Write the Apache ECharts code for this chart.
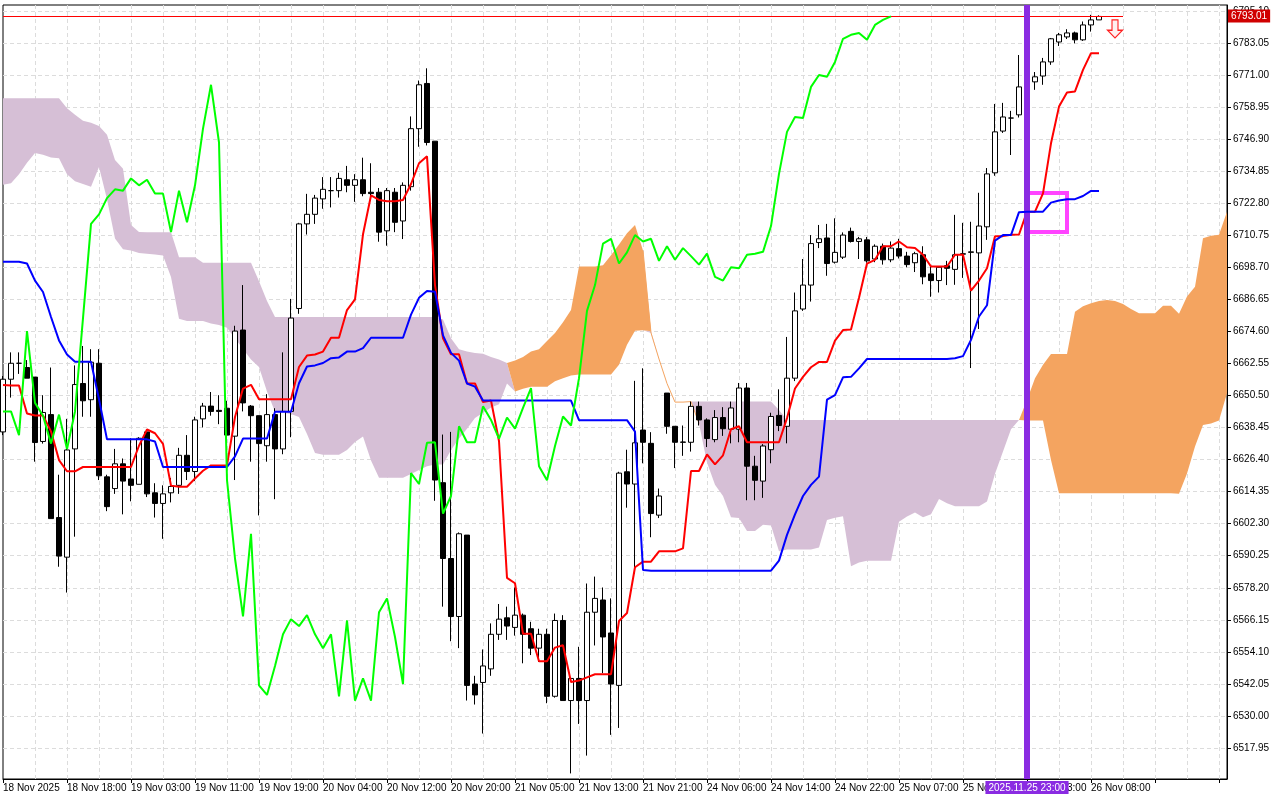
<!DOCTYPE html>
<html><head><meta charset="utf-8">
<script src="https://cdn.jsdelivr.net/npm/echarts@6/dist/echarts.min.js"></script>
<style>html,body{margin:0;padding:0;background:#fff}#c{width:1280px;height:800px}</style>
</head><body><div id="c"></div>
<script>
const xTickLabels = ["18 Nov 2025","18 Nov 18:00","19 Nov 03:00","19 Nov 11:00","19 Nov 19:00","20 Nov 04:00","20 Nov 12:00","20 Nov 20:00","21 Nov 05:00","21 Nov 13:00","21 Nov 21:00","24 Nov 06:00","24 Nov 14:00","24 Nov 22:00","25 Nov 07:00","25 Nov 15:00","25 Nov 23:00","26 Nov 08:00"];
const yTickLabels = ["6517.95","6530.00","6542.05","6554.10","6566.15","6578.20","6590.25","6602.30","6614.35","6626.40","6638.45","6650.50","6662.55","6674.60","6686.65","6698.70","6710.75","6722.80","6734.85","6746.90","6758.95","6771.00","6783.05","6795.10"];
const openV = [6636.8,6656.6,6662.6,6661.0,6657.4,6633.2,6643.3,6604.6,6589.7,6630.4,
6655.0,6648.9,6662.6,6619.9,6615.5,6624.8,6619.1,6617.1,6636.8,6613.9,
6609.9,6613.9,6616.7,6628.0,6621.9,6641.7,6646.5,6644.9,6645.7,6635.2,
6675.1,6646.5,6642.9,6631.6,6643.3,6630.4,6644.5,6683.2,6715.0,6718.6,
6724.4,6727.5,6727.5,6731.6,6729.5,6731.6,6726.9,6726.9,6712.4,6726.9,
6716.1,6729.0,6750.8,6767.8,6746.1,6617.7,6589.2,6567.4,6598.0,6542.0,
6542.6,6547.7,6560.7,6566.9,6563.3,6567.9,6562.8,6555.5,6560.7,6537.4,
6565.9,6535.8,6544.1,6535.8,6569.0,6573.6,6561.2,6541.5,6621.8,6617.2,
6637.5,6632.5,6605.5,6651.4,6638.9,6633.0,6632.9,6646.4,6641.3,6633.9,
6642.2,6637.8,6637.8,6653.3,6623.9,6618.3,6630.1,6643.0,6638.9,6657.0,
6683.0,6692.0,6708.0,6709.7,6700.6,6702.5,6712.2,6708.4,6709.0,6701.8,
6706.6,6701.5,6705.7,6702.9,6700.4,6703.4,6696.2,6693.7,6699.3,6697.9,
6703.6,6704.3,6704.1,6713.9,6734.2,6749.9,6754.8,6756.0,6766.5,6768.4,
6770.6,6775.9,6783.4,6785.3,6786.8,6784.2,6789.8,6791.7];
const closeV = [6656.6,6662.6,6662.6,6657.0,6632.8,6644.1,6604.2,6590.1,6630.0,6654.6,
6648.5,6663.0,6620.3,6608.7,6624.8,6618.3,6616.7,6634.4,6613.5,6609.9,
6613.5,6616.3,6628.0,6621.9,6641.3,6646.5,6644.5,6644.5,6635.6,6674.7,
6647.7,6642.9,6632.4,6643.3,6630.4,6644.5,6679.6,6715.0,6718.6,6724.7,
6728.0,6727.5,6732.1,6729.5,6731.6,6726.4,6726.4,6711.9,6727.5,6715.6,
6729.5,6750.8,6767.3,6745.6,6618.7,6589.2,6567.4,6598.5,6541.5,6537.9,
6548.8,6560.7,6566.4,6563.8,6567.9,6560.7,6555.5,6560.7,6537.4,6565.9,
6535.8,6544.1,6535.8,6569.0,6574.2,6559.7,6542.0,6621.3,6617.2,6632.7,
6632.9,6606.1,6612.7,6638.9,6632.9,6632.9,6646.4,6641.3,6634.3,6642.2,
6638.0,6645.8,6653.3,6623.9,6618.6,6631.5,6642.6,6639.2,6657.0,6682.3,
6692.0,6707.6,6709.4,6700.1,6704.3,6710.8,6708.4,6709.4,6701.1,6706.6,
6701.5,6705.9,6702.9,6699.7,6703.8,6695.1,6693.7,6698.7,6698.3,6703.4,
6703.8,6704.5,6714.2,6733.8,6749.6,6755.2,6754.8,6766.5,6771.0,6770.3,
6775.9,6784.6,6786.1,6786.8,6784.2,6789.8,6791.7,6793.0];
const lowV = [6635.6,6649.7,6658.6,6657.0,6625.6,6632.4,6604.2,6586.1,6576.4,6597.4,
6642.5,6642.5,6618.7,6607.0,6613.5,6605.8,6610.7,6617.1,6612.3,6604.6,
6596.6,6610.3,6613.5,6618.7,6618.3,6638.5,6642.9,6639.7,6634.4,6618.7,
6644.5,6625.6,6605.4,6625.6,6611.5,6628.4,6634.8,6681.2,6711.0,6715.0,
6720.7,6721.2,6724.9,6726.9,6723.3,6725.4,6724.9,6708.3,6706.8,6711.9,
6709.3,6727.5,6744.0,6744.5,6610.9,6571.1,6558.1,6555.5,6535.8,6534.3,
6523.4,6545.1,6558.6,6558.6,6560.2,6549.8,6552.9,6550.3,6534.8,6536.9,
6535.8,6508.4,6527.0,6515.1,6556.5,6546.1,6522.9,6525.5,6608.3,6583.5,
6625.0,6597.2,6604.4,6636.1,6623.2,6627.8,6629.4,6639.2,6631.1,6632.9,
6635.3,6632.5,6632.9,6611.1,6611.1,6612.0,6625.0,6637.1,6632.5,6655.9,
6682.3,6685.8,6705.9,6695.5,6700.1,6701.8,6708.0,6701.8,6700.4,6700.6,
6699.7,6700.6,6702.0,6698.7,6696.9,6692.3,6687.6,6689.2,6692.0,6692.1,
6694.7,6660.8,6675.5,6709.0,6733.1,6749.2,6740.9,6755.0,6764.0,6765.4,
6767.3,6774.8,6781.9,6784.5,6782.9,6783.8,6787.3,6791.7];
const highV = [6657.8,6666.7,6666.7,6663.8,6657.4,6650.6,6661.0,6620.7,6641.7,6661.8,
6669.1,6667.9,6667.9,6620.7,6630.4,6626.8,6634.4,6634.8,6637.7,6617.5,
6616.7,6619.5,6630.8,6635.6,6642.5,6647.7,6651.8,6650.6,6648.5,6676.7,
6692.0,6646.9,6642.9,6651.0,6645.7,6666.7,6686.8,6715.4,6726.3,6725.9,
6732.6,6732.6,6734.2,6736.8,6733.7,6739.9,6737.8,6728.5,6728.5,6728.5,
6730.6,6755.4,6768.9,6773.5,6746.1,6635.8,6636.8,6599.0,6598.0,6545.1,
6555.0,6564.8,6572.1,6571.1,6578.3,6568.5,6565.4,6562.8,6562.8,6568.5,
6567.9,6544.6,6556.0,6579.8,6582.4,6578.3,6574.2,6621.8,6630.1,6656.0,
6660.7,6636.7,6615.5,6651.4,6638.9,6639.2,6648.2,6648.2,6641.9,6645.0,
6646.1,6648.2,6655.2,6655.2,6627.8,6632.2,6644.0,6652.8,6672.5,6689.2,
6701.8,6710.8,6714.6,6715.0,6717.1,6711.8,6713.6,6710.1,6710.1,6707.3,
6707.6,6708.4,6709.4,6704.5,6704.5,6706.6,6699.0,6699.0,6701.1,6718.4,
6715.4,6715.8,6726.7,6736.0,6760.1,6760.5,6757.5,6778.5,6772.0,6772.1,
6777.4,6784.9,6786.8,6788.2,6787.3,6791.1,6793.6,6793.4];
const tenkan = [6654.4,6654.2,6654.2,6643.7,6643.0,6643.0,6637.0,6626.2,6622.0,6622.0,
6623.6,6623.6,6623.6,6623.6,6623.6,6623.6,6623.6,6631.6,6637.7,6636.3,
6632.3,6616.6,6616.2,6616.2,6619.3,6622.2,6624.2,6624.2,6624.2,6642.4,
6653.1,6654.5,6649.1,6649.1,6649.1,6649.1,6649.1,6661.2,6665.5,6665.9,
6667.0,6672.2,6672.2,6682.6,6686.6,6711.1,6725.7,6724.0,6723.5,6723.5,
6724.0,6730.0,6737.8,6740.4,6692.0,6672.0,6666.0,6666.0,6655.0,6655.0,
6648.0,6648.6,6633.4,6581.9,6579.9,6560.9,6560.9,6550.6,6550.6,6555.7,
6556.6,6542.8,6543.3,6544.5,6545.7,6545.7,6545.7,6565.7,6568.7,6585.9,
6588.0,6588.0,6591.9,6591.9,6591.9,6593.0,6622.1,6622.1,6628.3,6624.6,
6628.0,6637.8,6638.9,6632.9,6632.9,6632.9,6632.9,6632.9,6642.0,6653.1,
6657.5,6661.1,6663.1,6663.1,6671.1,6675.1,6675.3,6687.2,6700.1,6701.5,
6706.6,6706.6,6708.4,6706.2,6705.9,6703.4,6699.0,6699.0,6699.0,6703.4,
6703.4,6689.9,6693.7,6698.3,6710.4,6710.4,6710.9,6711.0,6719.6,6719.6,
6726.5,6745.3,6759.1,6764.4,6764.8,6772.9,6779.2,6779.2];
const kijun = [6700.8,6700.8,6700.8,6700.1,6693.7,6689.4,6680.0,6671.2,6665.9,6663.2,
6663.2,6663.2,6649.1,6634.0,6634.0,6634.0,6634.0,6634.0,6634.0,6633.2,
6623.6,6623.6,6623.6,6623.6,6623.6,6623.6,6623.6,6623.6,6623.6,6627.6,
6634.3,6634.3,6634.3,6634.3,6644.4,6644.4,6644.4,6655.1,6661.4,6661.8,
6662.7,6664.5,6664.8,6667.0,6667.0,6668.3,6672.2,6672.2,6672.2,6672.2,
6672.2,6680.9,6687.2,6689.8,6689.5,6673.1,6666.5,6663.6,6655.0,6653.8,
6648.6,6648.6,6648.6,6648.6,6648.6,6648.6,6648.6,6648.6,6648.6,6648.6,
6648.6,6648.6,6641.2,6641.2,6641.2,6641.2,6641.2,6641.2,6641.2,6636.9,
6584.9,6584.6,6584.6,6584.6,6584.6,6584.6,6584.6,6584.6,6584.6,6584.6,
6584.6,6584.6,6584.6,6584.6,6584.6,6584.6,6584.6,6588.4,6598.1,6605.8,
6612.7,6616.9,6620.0,6648.9,6650.6,6657.3,6657.5,6660.7,6664.2,6664.2,
6664.2,6664.2,6664.2,6664.2,6664.2,6664.2,6664.2,6664.2,6664.2,6664.5,
6665.3,6671.4,6680.2,6684.4,6708.7,6710.8,6710.8,6719.4,6719.6,6719.6,
6719.6,6723.0,6723.8,6724.3,6724.3,6725.5,6727.4,6727.4];
const chikou = [6644.5,6644.5,6635.6,6674.7,6647.7,6642.9,6632.4,6643.3,6630.4,6644.5,
6679.6,6715.0,6718.6,6724.7,6728.0,6727.5,6732.1,6729.5,6731.6,6726.4,
6726.4,6711.9,6727.5,6715.6,6729.5,6750.8,6767.3,6745.6,6618.7,6589.2,
6567.4,6598.5,6541.5,6537.9,6548.8,6560.7,6566.4,6563.8,6567.9,6560.7,
6555.5,6560.7,6537.4,6565.9,6535.8,6544.1,6535.8,6569.0,6574.2,6559.7,
6542.0,6621.3,6617.2,6632.7,6632.9,6606.1,6612.7,6638.9,6632.9,6632.9,
6646.4,6641.3,6634.3,6642.2,6638.0,6645.8,6653.3,6623.9,6618.6,6631.5,
6642.6,6639.2,6657.0,6682.3,6692.0,6707.6,6709.4,6700.1,6704.3,6710.8,
6708.4,6709.4,6701.1,6706.6,6701.5,6705.9,6702.9,6699.7,6703.8,6695.1,
6693.7,6698.7,6698.3,6703.4,6703.8,6704.5,6714.2,6733.8,6749.6,6755.2,
6754.8,6766.5,6771.0,6770.3,6775.9,6784.6,6786.1,6786.8,6784.2,6789.8,
6791.7,6793.0];
const spanA = [6729.7,6730.3,6733.7,6738,6741.7,6741,6740,6739.7,6733.7,6731,
6730,6729,6736.4,6724.3,6709.5,6705.5,6705,6704.1,6703.8,6703.5,
6703.1,6695,6679.3,6678.5,6678.5,6678.5,6677.6,6677,6676,6672,
6668,6664,6661.2,6652,6644.4,6644,6643.5,6642.4,6636,6628.9,
6628.2,6628.2,6628.2,6630,6633,6635.1,6626,6619.6,6619.6,6619.6,
6619.6,6621,6622.5,6623.9,6624.5,6624.5,6630,6634.3,6638,6642,
6644,6646,6647.2,6655,6663.6,6665,6667,6667.9,6671,6674,
6678,6682.6,6699,6699,6699,6699.5,6703.2,6707.3,6711.5,6714.6,
6705,6674,6664.2,6655,6648,6648,6648.2,6640,6625.3,6616.9,
6612.7,6604.7,6604.4,6599.5,6599.5,6601.9,6601.6,6591.9,6592.6,6592.6,
6592.6,6592.6,6593.3,6603.7,6604.5,6605.1,6586.3,6587.7,6588.4,6588.4,
6588.4,6588.4,6603,6605,6606.5,6604.7,6605.8,6611.6,6610,6608.8,
6608.8,6608.8,6608.8,6610.6,6621.1,6629.4,6637.8,6641.3,6648.8,6657,
6662,6666.1,6666.1,6666.1,6682,6684,6685.2,6686,6686.4,6686,
6684.9,6683,6681.4,6681.4,6681.4,6684.2,6684.2,6681.2,6687.7,6691.4,
6709.6,6710.5,6710.9,6719.6];
const spanB = [6762.2,6762.2,6762.2,6762.2,6762.2,6762.2,6762.2,6762.2,6758.5,6756,
6753.8,6753,6751.8,6748.5,6739,6735.7,6714.6,6712,6711.9,6711.9,
6711.9,6711.9,6702.5,6702.5,6702.5,6700.4,6700.4,6700.4,6700.4,6700.4,
6700.4,6700.4,6693.4,6686,6680,6680,6680,6680,6680,6680,
6680,6680,6680,6680,6680,6680,6680,6680,6680,6680,
6680,6680,6680,6680,6680,6679.1,6672,6667.9,6667,6666.5,
6666.2,6665,6664,6662.7,6652,6653,6653.8,6653.8,6653.8,6655.8,
6657,6658,6658.4,6658.4,6658.4,6658.4,6658.4,6662,6669.6,6674.8,
6675,6674.6,6664.2,6655,6648,6648,6648.2,6648.2,6648.2,6648.2,
6648.2,6648.2,6648.2,6648.2,6648.2,6648.2,6648.2,6645,6641.3,6641.3,
6641.3,6641.3,6641.3,6641.3,6641.3,6641.3,6641.3,6641.3,6641.3,6641.3,
6641.3,6641.3,6641.3,6641.3,6641.3,6641.3,6641.3,6641.3,6641.3,6641.3,
6641.3,6641.3,6641.3,6641.3,6641.3,6641.3,6641.3,6641.3,6641.1,6641.1,
6641.1,6626.2,6613.7,6613.7,6613.7,6613.7,6613.7,6613.7,6613.7,6613.7,
6613.7,6613.7,6613.7,6613.7,6613.7,6613.7,6613.7,6613.5,6621.2,6631.3,
6639.4,6640,6641.1,6651.3];
const lastPrice = 6793.01;
const nowIndex = 128;
const nowLabel = "2025.11.25 23:00";

const N = spanA.length;
const cats = Array.from({length: N}, (_, i) => String(i));
const candles = openV.map((o, i) => [o, closeV[i], lowV[i], highV[i]]);
const cloudBase = spanA.map((a, i) => Math.min(a, spanB[i]));
const cloudPurple = spanA.map((a, i) => spanB[i] > a ? spanB[i] - a : 0);
const cloudOrange = spanA.map((a, i) => a >= spanB[i] ? a - spanB[i] : 0);
const thinA = spanA.map((a, i) => (i >= 80 && i <= 87) ? a : null);
const yTicks = yTickLabels.map(Number);

const chart = echarts.init(document.getElementById('c'), null, {renderer: 'canvas'});
const FONT = 'Liberation Sans';
chart.setOption({
  animation: false,
  backgroundColor: '#ffffff',
  grid: {left: 2, right: 53, top: 5, bottom: 21, show: true, borderColor: '#000', borderWidth: 1, backgroundColor: 'transparent'},
  xAxis: {
    type: 'category', data: cats, boundaryGap: false,
    axisLine: {lineStyle: {color: '#000'}},
    axisTick: {interval: (i) => i % 8 === 0, length: 4, lineStyle: {color: '#000'}},
    axisLabel: {
      interval: (i) => i % 8 === 0 && xTickLabels[i / 8] !== undefined,
      formatter: (v, i) => xTickLabels[i / 8] || '',
      align: 'left', margin: 4, color: '#000', fontFamily: FONT, fontSize: 10
    },
    splitLine: {show: true, interval: (i) => i % 4 === 0 && i > 0, lineStyle: {color: '#dcdcdc', type: [4, 3]}}
  },
  yAxis: {
    type: 'value', position: 'right', min: 6506.3, max: 6797.3, scale: true,
    axisLine: {show: true, lineStyle: {color: '#000'}},
    axisTick: {show: true, length: 4, customValues: yTicks, lineStyle: {color: '#000'}},
    axisLabel: {customValues: yTicks, formatter: (v) => v.toFixed(2), color: '#000', fontFamily: FONT, fontSize: 10, margin: 6},
    splitLine: {show: true, lineStyle: {color: '#dcdcdc', type: [4, 3]}}
  },
  series: [
    {type: 'line', data: cloudBase, stack: 'cloud', symbol: 'none', lineStyle: {width: 0}, areaStyle: {opacity: 0}, z: 1, silent: true},
    {type: 'line', data: cloudPurple, stack: 'cloud', symbol: 'none', lineStyle: {width: 0}, areaStyle: {color: '#d6bfd6', opacity: 1}, z: 1, silent: true},
    {type: 'line', data: cloudOrange, stack: 'cloud', symbol: 'none', lineStyle: {width: 0}, areaStyle: {color: '#f4a460', opacity: 1}, z: 1, silent: true},
    {type: 'line', data: thinA, symbol: 'none', lineStyle: {width: 1, color: '#f4a460'}, z: 2, silent: true},
    {type: 'candlestick', data: candles, barWidth: 5, z: 3,
      itemStyle: {color: '#ffffff', color0: '#000000', borderColor: '#000000', borderColor0: '#000000', borderWidth: 1},
      markLine: {
        symbol: ['none', 'none'], silent: true, animation: false,
        data: [
          [{coord: [0, lastPrice], lineStyle: {color: '#ff0000', width: 1, type: 'solid'}, label: {show: false}}, {coord: [140, lastPrice]}],
          {xAxis: nowIndex, lineStyle: {color: '#8a2be2', width: 6, type: 'solid'}, label: {show: true, position: 'start', distance: 2, formatter: nowLabel, color: '#fff', backgroundColor: '#8a2be2', padding: [2, 3, 1, 3], fontFamily: FONT, fontSize: 10}}
        ]
      },
      markArea: {silent: true, data: [[{coord: [nowIndex, 6726.6], itemStyle: {color: 'rgba(0,0,0,0)', borderColor: '#ff44ff', borderWidth: 4}}, {coord: [nowIndex + 5, 6712.0]}]]},
      markPoint: {silent: true, data: [{coord: [139, 6788.3], symbol: 'path://M3,0 L7,0 L7,8 L10,8 L5,14 L0,8 L3,8 Z', symbolSize: [15, 18], itemStyle: {color: '#fff0f0', borderColor: '#ff2020', borderWidth: 1.2}, label: {show: false}}]}
    },
    {type: 'line', data: tenkan, symbol: 'none', lineStyle: {width: 2, color: '#ff0000'}, z: 4, silent: true},
    {type: 'line', data: kijun, symbol: 'none', lineStyle: {width: 2, color: '#0000ff'}, z: 5, silent: true},
    {type: 'line', data: chikou, symbol: 'none', lineStyle: {width: 2, color: '#00ff00'}, z: 6, silent: true}
  ]
});
const py = chart.convertToPixel({yAxisIndex: 0}, lastPrice);
chart.setOption({graphic: [{
  type: 'text', left: 1228, top: py - 7, z: 100,
  style: {text: lastPrice.toFixed(2), fill: '#fff', backgroundColor: '#d00000', padding: [2, 3, 1, 3], font: '10px "Liberation Sans"'}
}]});
</script></body></html>
